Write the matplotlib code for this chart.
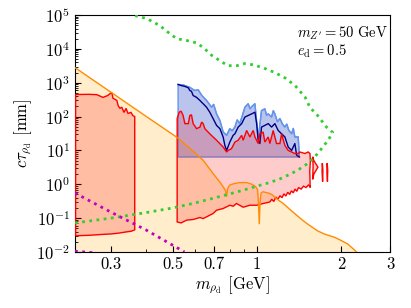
import matplotlib
matplotlib.use('Agg')
import matplotlib.pyplot as plt
from matplotlib.ticker import NullFormatter, LogLocator

plt.rcParams['font.family'] = 'serif'
plt.rcParams['font.serif'] = ['cmr10']
plt.rcParams['mathtext.fontset'] = 'cm'
plt.rcParams['axes.formatter.use_mathtext'] = True
plt.rcParams['font.size'] = 12

# orange line (filled below)
x_orange = [0.223, 0.3, 0.4, 0.517, 0.58, 0.642, 0.697, 0.74, 0.758, 0.772, 0.779, 0.786, 0.80, 0.83,
            0.87, 0.92, 0.96, 0.99, 1.005, 1.013, 1.02, 1.027, 1.035, 1.05, 1.1, 1.13, 1.2, 1.24,
            1.335, 1.45, 1.523, 1.65, 1.751, 1.9, 2.0, 2.12, 2.28]
y_orange = [2800, 525, 103, 24.4, 11, 5.1, 2.07, 1.1, 0.83, 0.65, 0.44, 0.75, 0.95, 1.05,
            1.12, 1.12, 1.0, 0.85, 0.7, 0.3, 0.068, 0.3, 0.55, 0.6, 0.55, 0.5, 0.33, 0.275,
            0.16, 0.09, 0.066, 0.042, 0.0335, 0.027, 0.022, 0.017, 0.0099]

# left red region
x_left_top = [0.224, 0.25, 0.267, 0.281, 0.292, 0.302, 0.305, 0.315, 0.318, 0.323, 0.328,
              0.334, 0.340, 0.345, 0.354, 0.359, 0.365]
y_left_top = [450, 455, 445, 370, 420, 520, 350, 300, 215, 175, 190, 133, 175, 124, 133, 108, 100]
x_left_bot = [0.224, 0.25, 0.28, 0.30, 0.32, 0.34, 0.355, 0.365]
y_left_bot = [0.030, 0.031, 0.033, 0.034, 0.036, 0.039, 0.041, 0.045]

# right red region
x_red_top = [0.518, 0.527, 0.535, 0.544, 0.552, 0.568, 0.575, 0.583, 0.591, 0.608, 0.625, 0.634,
             0.642, 0.651, 0.678, 0.717, 0.757, 0.779, 0.789, 0.811, 0.834, 0.857, 0.882, 0.893,
             0.919, 0.944, 0.970, 0.984, 1.011, 1.025, 1.053, 1.068, 1.098, 1.113, 1.144, 1.176,
             1.209, 1.226, 1.260, 1.295, 1.332, 1.368, 1.406, 1.426, 1.486, 1.527, 1.549]
y_red_top = [88, 135, 145, 108, 62, 62, 108, 113, 62, 44, 49, 69,
             62, 44, 31, 20, 12.6, 9, 10, 11.3, 17.7, 20, 28, 20,
             39, 25, 39, 25, 16, 31, 35, 17.7, 25, 16, 39, 16,
             16, 31, 14, 10, 9, 8.1, 8.1, 9, 8.1, 9, 8.1]
x_red_bot = [0.518, 0.535, 0.560, 0.591, 0.625, 0.642, 0.697, 0.717, 0.757, 0.800, 0.822, 0.845,
             0.893, 0.944, 0.998, 1.053, 1.113, 1.13, 1.15, 1.17, 1.19, 1.21, 1.23, 1.25, 1.27,
             1.29, 1.31, 1.33, 1.35, 1.37, 1.39, 1.41, 1.44, 1.47, 1.50, 1.53, 1.549]
y_red_bot = [0.077, 0.072, 0.087, 0.091, 0.104, 0.097, 0.137, 0.171, 0.192, 0.24, 0.224, 0.27,
             0.21, 0.24, 0.24, 0.27, 0.30, 0.36, 0.31, 0.42, 0.36, 0.46, 0.40, 0.52, 0.45,
             0.58, 0.50, 0.64, 0.56, 0.72, 0.62, 0.80, 0.72, 0.88, 0.80, 0.95, 0.87]
x_red_edge = [1.555, 1.547, 1.552]
y_red_edge = [5.0, 2.5, 0.8]

# small red islands beyond the region
x_isl1 = [1.585, 1.60, 1.655, 1.60, 1.585, 1.59, 1.585]
y_isl1 = [6.5, 5.0, 3.2, 2.0, 1.4, 3.5, 6.5]
x_isl2 = [1.716, 1.724, 1.72, 1.712, 1.716]
y_isl2 = [4.2, 2.6, 1.2, 2.4, 4.2]
x_isl3 = [1.786, 1.794, 1.79, 1.782, 1.786]
y_isl3 = [4.2, 2.6, 1.2, 2.4, 4.2]

# blue region
blue_bottom = 6.4
x_lightblue = [0.522, 0.545, 0.575, 0.599, 0.616, 0.635, 0.660, 0.688, 0.700, 0.717, 0.737, 0.757,
               0.779, 0.800, 0.815, 0.834, 0.850, 0.868, 0.888, 0.906, 0.931, 0.945, 0.96, 0.984,
               1.011, 1.039, 1.068, 1.083, 1.098, 1.129, 1.145, 1.160, 1.185, 1.209, 1.235, 1.260,
               1.28, 1.30, 1.332, 1.350, 1.368, 1.406, 1.42]
y_lightblue = [890, 860, 730, 590, 620, 420, 300, 190, 230, 120, 77, 35,
               28, 44, 38, 49, 80, 62, 110, 190, 240, 170, 200, 240,
               22, 150, 170, 110, 120, 97, 150, 120, 70, 88, 60, 49,
               60, 40, 31, 45, 25, 25, 6.4]
x_darkblue = [0.522, 0.535, 0.552, 0.568, 0.575, 0.583, 0.591, 0.608, 0.625, 0.642, 0.660, 0.678,
              0.697, 0.717, 0.737, 0.757, 0.768, 0.779, 0.800, 0.822, 0.834, 0.857, 0.882, 0.906,
              0.931, 0.957, 0.984, 0.998, 1.011, 1.025, 1.039, 1.068, 1.098, 1.129, 1.160, 1.192,
              1.226, 1.260, 1.295, 1.332, 1.368, 1.388, 1.42]
y_darkblue = [890, 830, 780, 710, 590, 560, 420, 370, 300, 240, 190, 135,
              87, 55, 44, 25, 14, 10, 17.7, 28, 31, 49, 62, 97,
              108, 120, 135, 62, 20, 16, 49, 55, 62, 49, 62, 39,
              31, 25, 12.6, 10, 16, 7.2, 6.4]

# dotted lines
x_green = [0.223, 0.3, 0.4, 0.5, 0.6, 0.7, 0.8, 0.9, 1.0, 1.1, 1.2, 1.3, 1.4, 1.5, 1.6, 1.7, 1.8, 1.87,
           1.78, 1.65, 1.55, 1.49, 1.37, 1.26, 1.16, 1.05, 0.967, 0.906, 0.848, 0.787, 0.737, 0.69,
           0.651, 0.61, 0.561, 0.517, 0.488, 0.449, 0.403, 0.36]
y_green = [0.072, 0.1, 0.145, 0.2, 0.28, 0.39, 0.52, 0.68, 0.88, 1.1, 1.4, 1.9, 2.6, 3.8, 6.0, 11, 20, 34,
           48, 108, 186, 370, 830, 1400, 2000, 2800, 3400, 3700, 3200, 3200, 4500, 6400,
           1.0e4, 1.5e4, 1.77e4, 2.0e4, 2.8e4, 4.9e4, 7.9e4, 1.0e5]
x_magenta = [0.223, 0.3, 0.4, 0.55]
y_magenta = [0.55, 0.15, 0.045, 0.01]
x_magenta2 = [0.223, 0.24, 0.26]
y_magenta2 = [0.0105, 0.0100, 0.0095]

xticks = [0.3, 0.5, 0.7, 1, 2, 3]
xticklabels = ['0.3', '0.5', '0.7', '1', '2', '3']
yticks = [1e-2, 1e-1, 1e0, 1e1, 1e2, 1e3, 1e4, 1e5]

fig = plt.figure(figsize=(4.11, 3.08), dpi=100)
ax = fig.add_axes([0.1825, 0.182, 0.7665, 0.769])

# orange
ax.fill_between(x_orange, y_orange, 1e-3, color='orange', alpha=0.2, lw=0, zorder=1)
ax.plot(x_orange, y_orange, color='darkorange', lw=1, zorder=5)

# blue
bx = [x_lightblue[0]] + x_lightblue + [x_lightblue[-1]]
by = [blue_bottom] + y_lightblue + [blue_bottom]
ax.fill(bx, by, facecolor=(0.3, 0.4, 0.82, 0.38), edgecolor='cornflowerblue', lw=1, zorder=2)
ax.plot(x_lightblue, y_lightblue, color='cornflowerblue', lw=1, zorder=3)
ax.plot(x_darkblue, y_darkblue, color='navy', lw=1, zorder=3)

# red regions
lx = [x_left_bot[0]] + x_left_top + x_left_bot[::-1]
ly = [y_left_bot[0]] + y_left_top + y_left_bot[::-1]
ax.fill(lx, ly, facecolor=(1, 0, 0, 0.2), edgecolor='red', lw=1, zorder=3)
rx = [x_red_bot[0]] + x_red_top + x_red_edge + x_red_bot[::-1]
ry = [y_red_bot[0]] + y_red_top + y_red_edge + y_red_bot[::-1]
ax.fill(rx, ry, facecolor=(1, 0, 0, 0.2), edgecolor='red', lw=1, zorder=3)
for xi, yi in [(x_isl1, y_isl1), (x_isl2, y_isl2), (x_isl3, y_isl3)]:
    ax.fill(xi, yi, facecolor=(1, 0, 0, 0.2), edgecolor='red', lw=1, zorder=3)

# dotted
ax.plot(x_green, y_green, color='limegreen', lw=2, ls=(0, (1, 1.6)), zorder=6)
ax.plot(x_magenta, y_magenta, color='m', lw=2, ls=(0, (1, 1.6)), zorder=6)
ax.plot(x_magenta2, y_magenta2, color='m', lw=2, ls=(0, (1, 1.6)), zorder=6)

ax.set_xscale('log')
ax.set_yscale('log')
ax.set_xlim(0.223, 3)
ax.set_ylim(1e-2, 1e5)
ax.set_xticks(xticks)
ax.set_xticklabels(xticklabels)
ax.set_xticks([0.4, 0.6, 0.8, 0.9], minor=True)
ax.xaxis.set_minor_formatter(NullFormatter())
ax.set_yticks(yticks)
ax.yaxis.set_minor_locator(LogLocator(base=10, subs=range(2, 10), numticks=20))
ax.yaxis.set_minor_formatter(NullFormatter())
ax.tick_params(which='both', direction='in', top=False, right=False, labelsize=12)
ax.tick_params(which='major', length=4)
ax.tick_params(which='minor', length=2)

ax.set_xlabel(r'$m_{\rho_{\rm d}}$ [GeV]', fontsize=12, labelpad=2)
ax.set_ylabel(r'$c\tau_{\rho_{\rm d}}$ [mm]', fontsize=12, labelpad=2)
ax.text(0.705, 0.96, r"$m_{Z'} = 50$ GeV", transform=ax.transAxes, va='top', fontsize=10.5)
ax.text(0.705, 0.885, r"$e_{\rm d} = 0.5$", transform=ax.transAxes, va='top', fontsize=10.5)

fig.savefig('out.png', dpi=100)
